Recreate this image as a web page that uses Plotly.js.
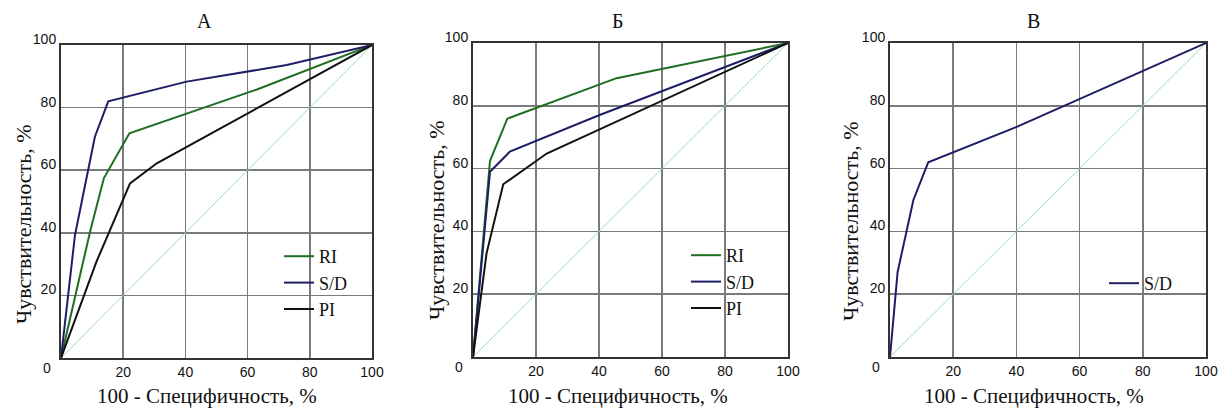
<!DOCTYPE html>
<html>
<head>
<meta charset="utf-8">
<script src="https://cdn.plot.ly/plotly-3.0.1.min.js"></script>
<style>html,body{margin:0;padding:0;background:#fff;}#chart{width:1230px;height:410px;}</style>
</head>
<body>
<div id="chart"></div>
<script>
// ---- data ----
const panelTitles = ["А", "Б", "В"];
const xAxisTitle = "100 - Специфичность, %";
const yAxisTitle = "Чувствительность, %";
const tickVals = [20, 40, 60, 80, 100];
const tickText = ["20", "40", "60", "80", "100"];
const cornerLabel = "0";
const diagX = [0, 100];
const diagY = [0, 100];

// Panel А
const aRI_x = [0, 9.5, 13.8, 22, 63, 100];
const aRI_y = [0, 41, 57.5, 71.8, 85.8, 100];
const aSD_x = [0, 4.5, 10.9, 15.2, 40.4, 72.6, 100];
const aSD_y = [0, 39.3, 70.7, 82, 88.3, 93.6, 100];
const aPI_x = [0, 11.5, 22.2, 30.8, 100];
const aPI_y = [0, 31, 55.8, 62.2, 100];

// Panel Б
const bRI_x = [0, 5.4, 10.9, 45.6, 100];
const bRI_y = [0, 62.5, 75.9, 88.8, 100];
const bSD_x = [0, 5.4, 11.7, 40, 100];
const bSD_y = [0, 59, 65.4, 77, 100];
const bPI_x = [0, 4.3, 9.6, 23.4, 100];
const bPI_y = [0, 33, 55, 64.8, 100];

// Panel В
const cSD_x = [0, 2.4, 7.4, 12.1, 40.1, 100];
const cSD_y = [0, 27, 50, 62, 73.3, 100];

const seriesNames = ["RI", "S/D", "PI"];

// ---- styles ----
const colRI = "#1f6e22";
const colSD = "#1e1e66";
const colPI = "#111111";
const colDiag = "#9fdcbc";
const serif = "Liberation Serif, Times New Roman, serif";
const sans = "Liberation Sans, Arial, sans-serif";

function line(x, y, name, color, xa, ya, leg, show) {
  return {x: x, y: y, name: name, type: "scatter", mode: "lines",
    line: {color: color, width: 2}, xaxis: xa, yaxis: ya,
    legend: leg, showlegend: show, cliponaxis: false, hoverinfo: "skip"};
}

const data = [
  line(diagX, diagY, "", colDiag, "x", "y", "legend", false),
  line(diagX, diagY, "", colDiag, "x2", "y2", "legend2", false),
  line(diagX, diagY, "", colDiag, "x3", "y3", "legend3", false),
  line(aRI_x, aRI_y, seriesNames[0], colRI, "x", "y", "legend", true),
  line(aSD_x, aSD_y, seriesNames[1], colSD, "x", "y", "legend", true),
  line(aPI_x, aPI_y, seriesNames[2], colPI, "x", "y", "legend", true),
  line(bRI_x, bRI_y, seriesNames[0], colRI, "x2", "y2", "legend2", true),
  line(bSD_x, bSD_y, seriesNames[1], colSD, "x2", "y2", "legend2", true),
  line(bPI_x, bPI_y, seriesNames[2], colPI, "x2", "y2", "legend2", true),
  line(cSD_x, cSD_y, seriesNames[1], colSD, "x3", "y3", "legend3", true)
];
data[0].line.width = 1; data[1].line.width = 1; data[2].line.width = 1;

function xax(dom, anchor) {
  return {domain: dom, anchor: anchor, range: [0, 100], autorange: false,
    tickmode: "array", tickvals: tickVals, ticktext: tickText, ticks: "", showgrid: true,
    gridcolor: "#7a7a7a", gridwidth: 1.5, zeroline: false, showline: true, mirror: "all",
    linecolor: "#333", linewidth: 2, tickfont: {family: sans, size: 14, color: "#111"},
    layer: "above traces", fixedrange: true};
}
function yax(dom, anchor) {
  const a = xax(dom, anchor);
  a.ticklabelshift = -6;
  return a;
}

const yDomA = [0.12683, 0.89024];
const yDomB = [0.12927, 0.89512];

function legend(xpx, ypx) {
  return {x: xpx / 1230, y: 1 - ypx / 410, xanchor: "left", yanchor: "top",
    bgcolor: "rgba(0,0,0,0)", borderwidth: 0, tracegroupgap: 0,
    font: {family: serif, size: 18, color: "#111"}};
}

const ann = [];
const titleX = [204, 617, 1033];
const xtX = [207, 618, 1034];
const ytX = [23, 436, 850];
const ytY = [224, 220, 221];
for (let i = 0; i < 3; i++) {
  ann.push({text: panelTitles[i], xref: "paper", yref: "paper", x: titleX[i] / 1230, y: 1 - 21 / 410,
    xanchor: "center", yanchor: "middle", showarrow: false, font: {family: serif, size: 20, color: "#111"}});
  ann.push({text: xAxisTitle, xref: "paper", yref: "paper", x: xtX[i] / 1230, y: 1 - 396 / 410,
    xanchor: "center", yanchor: "middle", showarrow: false, font: {family: serif, size: 21, color: "#111"}});
  ann.push({text: yAxisTitle, xref: "paper", yref: "paper", x: ytX[i] / 1230, y: 1 - ytY[i] / 410,
    xanchor: "center", yanchor: "middle", textangle: -90, showarrow: false, font: {family: serif, size: 22, color: "#111"}});
  const sfx = i === 0 ? "" : String(i + 1);
  ann.push({text: cornerLabel, xref: "x" + sfx, yref: "y" + sfx, x: 0, y: 0, xanchor: "right", yanchor: "middle",
    xshift: -8, yshift: -10, showarrow: false, font: {family: sans, size: 14, color: "#111"}});
}

const layout = {
  width: 1230, height: 410,
  margin: {l: 0, r: 0, t: 0, b: 0, pad: 0},
  paper_bgcolor: "#fff", plot_bgcolor: "rgba(0,0,0,0)",
  xaxis: xax([0.04959, 0.30244], "y"),
  yaxis: yax(yDomA, "x"),
  xaxis2: xax([0.38455, 0.64065], "y2"),
  yaxis2: yax(yDomB, "x2"),
  xaxis3: xax([0.72358, 0.98049], "y3"),
  yaxis3: yax(yDomB, "x3"),
  legend: legend(279, 238),
  legend2: legend(686, 237),
  legend3: legend(1104, 265),
  annotations: ann,
  showlegend: true
};

Plotly.newPlot("chart", data, layout, {staticPlot: true, displayModeBar: false});
</script>
</body>
</html>
